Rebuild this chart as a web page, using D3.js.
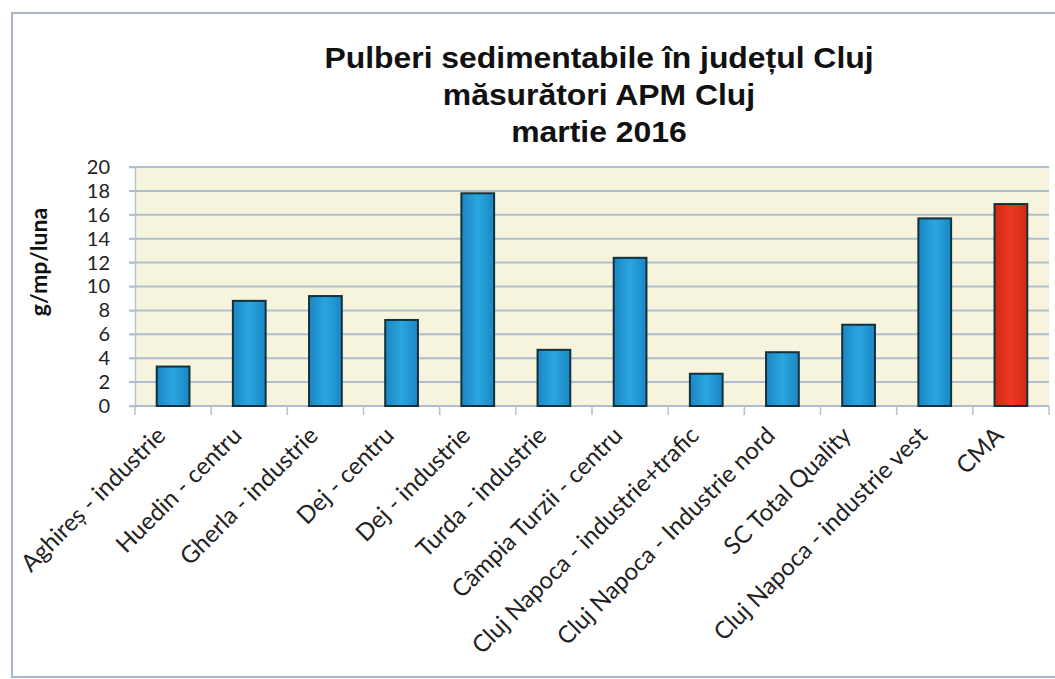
<!DOCTYPE html>
<html>
<head>
<meta charset="utf-8">
<script src="https://cdn.jsdelivr.net/npm/d3@7"></script>
<style>
  body { margin: 0; background: #fff; }
  svg { display: block; }
</style>
</head>
<body>
<div class="canvas"></div>
<script>
const categories = ['Aghireș - industrie', 'Huedin - centru', 'Gherla - industrie', 'Dej - centru',
    'Dej - industrie', 'Turda - industrie', 'Câmpia Turzii - centru', 'Cluj Napoca - industrie+trafic',
    'Cluj Napoca - Industrie nord', 'SC Total Quality', 'Cluj Napoca - industrie vest', 'CMA'];
const values = [3.3, 8.8, 9.2, 7.2, 17.8, 4.7, 12.4, 2.7, 4.5, 6.8, 15.7, 16.9];
const yTicks = [0, 2, 4, 6, 8, 10, 12, 14, 16, 18, 20];
const titleLines = ['Pulberi sedimentabile în județul Cluj', 'măsurători APM Cluj', 'martie 2016'];
const yLabel = 'g/mp/luna';

const dims = {width: 1055, height: 679};
const plot = {left: 135, right: 1049, top: 167, bottom: 406};

const svg = d3.select('.canvas').append('svg')
    .attr('width', dims.width)
    .attr('height', dims.height);

const defs = svg.append('defs');
const makeGrad = (id, stops) => {
    const g = defs.append('linearGradient').attr('id', id)
        .attr('x1', 0).attr('x2', 1).attr('y1', 0).attr('y2', 0);
    stops.forEach(s => g.append('stop').attr('offset', s[0]).attr('stop-color', s[1]));
};
makeGrad('blueGrad', [[0, '#1a86c4'], [0.5, '#2ba6df'], [1, '#1a86c4']]);
makeGrad('redGrad', [[0, '#d42814'], [0.5, '#e93a22'], [1, '#d42814']]);

// outer frame
svg.append('rect')
    .attr('x', 12).attr('y', 13)
    .attr('width', 1060).attr('height', 664)
    .attr('fill', 'none')
    .attr('stroke', '#a9b6c4')
    .attr('stroke-width', 2);

// title (slightly stretched like the scan)
const cx = 599;
svg.append('g')
    .attr('transform', `translate(${cx}, 0) scale(1.1, 1)`)
    .selectAll('text')
    .data(titleLines)
    .enter()
    .append('text')
    .attr('x', 0)
    .attr('y', (d, i) => 68 + i * 37)
    .attr('text-anchor', 'middle')
    .attr('font-family', 'Liberation Sans, Arial, sans-serif')
    .attr('font-weight', 'bold')
    .attr('font-size', 29)
    .attr('fill', '#111')
    .text(d => d);

const x = d3.scaleBand()
    .domain(categories)
    .range([plot.left, plot.right])
    .paddingInner(0.57)
    .paddingOuter(0.285);

const y = d3.scaleLinear()
    .domain([0, 20])
    .range([plot.bottom, plot.top]);

// plot background
svg.append('rect')
    .attr('x', plot.left).attr('y', plot.top)
    .attr('width', plot.right - plot.left)
    .attr('height', plot.bottom - plot.top)
    .attr('fill', '#f6f4dd');

// gridlines
svg.append('g').selectAll('line')
    .data(yTicks)
    .enter()
    .append('line')
    .attr('x1', plot.left - 6)
    .attr('x2', plot.right)
    .attr('y1', d => y(d))
    .attr('y2', d => y(d))
    .attr('stroke', '#aebdd0')
    .attr('stroke-width', 2);

// y axis
const yAxis = svg.append('g')
    .attr('transform', `translate(${plot.left}, 0)`)
    .call(d3.axisLeft(y).tickValues(yTicks).tickSize(6).tickPadding(19));
yAxis.select('.domain').attr('stroke', '#b8c2cc').attr('stroke-width', 1.5);
yAxis.selectAll('.tick line').attr('stroke', '#aebdd0');
yAxis.selectAll('text')
    .attr('font-family', 'Lato, sans-serif')
    .attr('font-size', 20)
    .attr('fill', '#222');

// x axis tick marks between categories
const xAxis = svg.append('g')
    .attr('transform', `translate(0, ${plot.bottom})`);
xAxis.append('line')
    .attr('x1', plot.left).attr('x2', plot.right)
    .attr('stroke', '#aebdd0').attr('stroke-width', 2);
xAxis.selectAll('.sep')
    .data(d3.range(categories.length + 1))
    .enter()
    .append('line')
    .attr('x1', i => plot.left + i * x.step())
    .attr('x2', i => plot.left + i * x.step())
    .attr('y1', 0).attr('y2', 9)
    .attr('stroke', '#b8c2cc').attr('stroke-width', 1.5);

xAxis.selectAll('.lbl')
    .data(categories)
    .enter()
    .append('text')
    .attr('transform', d => `translate(${x(d) + x.bandwidth() / 2 - 6}, 31) rotate(-45)`)
    .attr('text-anchor', 'end')
    .attr('font-family', 'Lato, sans-serif')
    .attr('font-size', 24)
    .attr('fill', '#222')
    .text(d => d);

// bars
svg.append('g').selectAll('rect')
    .data(values)
    .enter()
    .append('rect')
    .attr('x', (d, i) => x(categories[i]))
    .attr('y', d => y(d))
    .attr('width', x.bandwidth())
    .attr('height', d => y(0) - y(d))
    .attr('fill', (d, i) => categories[i] === 'CMA' ? 'url(#redGrad)' : 'url(#blueGrad)')
    .attr('stroke', '#14303a')
    .attr('stroke-width', 2);

// y label
svg.append('text')
    .attr('transform', `translate(47, 262) rotate(-90)`)
    .attr('text-anchor', 'middle')
    .attr('font-family', 'Lato, sans-serif')
    .attr('font-weight', 'bold')
    .attr('font-size', 23)
    .attr('fill', '#111')
    .text(yLabel);
</script>
</body>
</html>
